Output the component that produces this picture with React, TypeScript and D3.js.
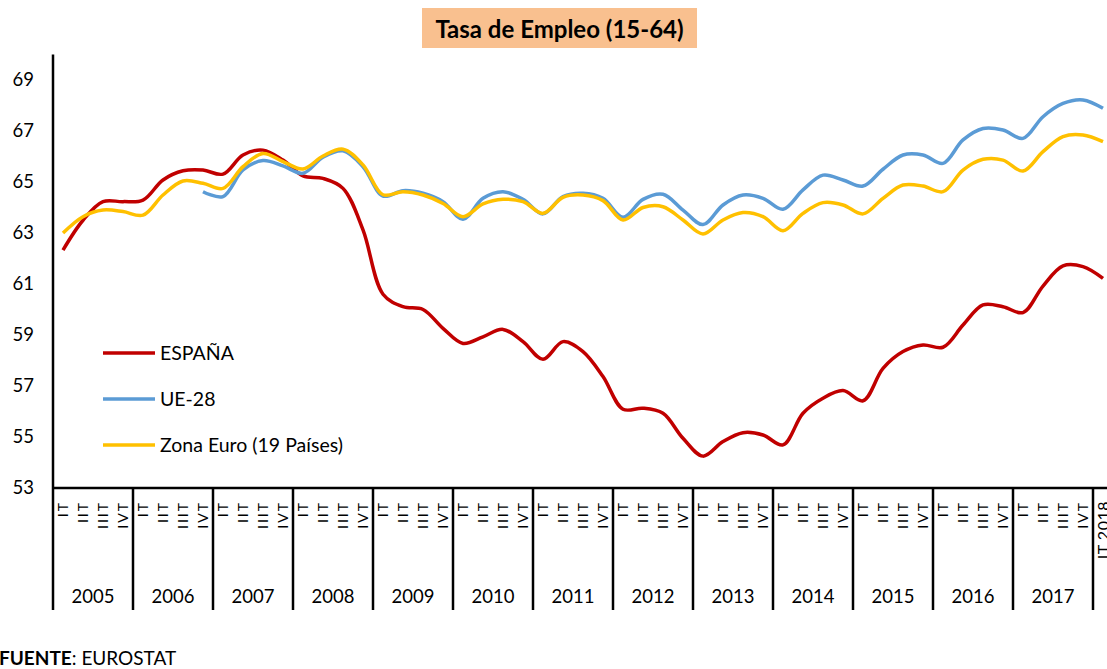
import React from 'react';
import * as d3 from 'd3';

const years = ['2005', '2006', '2007', '2008', '2009', '2010', '2011', '2012', '2013', '2014', '2015', '2016', '2017'];
const quarters = ['IT', 'IIT', 'IIIT', 'IVT'];
const lastLabel = 'IT 2018';
const yTicks = [53, 55, 57, 59, 61, 63, 65, 67, 69];

const espana = [
	62.33, 63.5, 64.23, 64.23, 64.29, 65.08, 65.44, 65.47, 65.31, 66.06, 66.25, 65.86, 65.24,
	65.14, 64.75, 63.12, 60.6, 60.11, 60.0, 59.26, 58.67, 58.93, 59.22, 58.74, 58.05, 58.74,
	58.35, 57.37, 56.09, 56.13, 55.93, 54.95, 54.25, 54.82, 55.17, 55.08, 54.69, 55.93, 56.52,
	56.82, 56.42, 57.69, 58.35, 58.61, 58.52, 59.39, 60.18, 60.11, 59.88, 60.92, 61.71, 61.68, 61.22,
];
const ue28 = [
	null, null, null, null, null, null, null, 64.62, 64.43, 65.47, 65.84, 65.63, 65.34,
	65.97, 66.22, 65.6, 64.45, 64.66, 64.56, 64.23, 63.54, 64.36, 64.62, 64.32, 63.75, 64.43,
	64.56, 64.36, 63.62, 64.32, 64.52, 63.9, 63.33, 64.1, 64.49, 64.36, 63.93, 64.69, 65.27,
	65.08, 64.84, 65.5, 66.06, 66.06, 65.73, 66.65, 67.1, 67.04, 66.71, 67.56, 68.08, 68.22, 67.89,
];
const zonaEuro = [
	63.0, 63.64, 63.9, 63.84, 63.7, 64.49, 65.04, 64.95, 64.75, 65.6, 66.12, 65.8, 65.51,
	66.02, 66.29, 65.67, 64.5, 64.62, 64.49, 64.16, 63.64, 64.14, 64.32, 64.23, 63.77, 64.4,
	64.49, 64.27, 63.51, 64.0, 64.03, 63.51, 62.96, 63.51, 63.8, 63.64, 63.09, 63.77, 64.19,
	64.1, 63.75, 64.36, 64.88, 64.84, 64.62, 65.47, 65.89, 65.86, 65.43, 66.19, 66.78, 66.84, 66.58,
];

const seriesNames = ['ESPAÑA', 'UE-28', 'Zona Euro (19 Países)'];
const seriesColors = ['#C00000', '#5B9BD5', '#FFC000'];

const width = 1107;
const height = 669;
const font = 'Lato, "Open Sans", sans-serif';

const App = () => {
	const margins = { l: 53, t: 54.5, b: 488 };
	const categories: string[] = [];
	years.forEach(y => quarters.forEach(q => categories.push(`${y}-${q}`)));
	categories.push('2018-IT');

	const xScale = d3
		.scaleBand()
		.domain(categories)
		.range([margins.l, margins.l + categories.length * 20]);
	const yScale = d3
		.scaleLinear()
		.domain([53, 70])
		.range([margins.b, margins.t]);

	const line = d3
		.line<number | null>()
		.defined(d => d != null)
		.x((d, i) => (xScale(categories[i]) as number) + xScale.bandwidth() / 2)
		.y(d => yScale(d as number))
		.curve(d3.curveCatmullRom.alpha(0.5));

	const allSeries = [espana, ue28, zonaEuro];
	const yearWidth = xScale.bandwidth() * 4;

	return (
		<svg
			width={width}
			height={height}
			style={{ position: 'absolute', left: 0, top: 0, background: '#fff' }}
			fontFamily={font}
		>
			{/* title */}
			<rect x={422} y={8} width={275} height={40} fill="#F9C08F" />
			<text x={559.5} y={38} textAnchor="middle" fontSize={24} fontWeight="bold" fill="#000">
				Tasa de Empleo (15-64)
			</text>

			{/* y axis */}
			<line x1={margins.l} x2={margins.l} y1={margins.t} y2={610} stroke="#000" strokeWidth={2.5} />
			{yTicks.map(t => (
				<text key={t} x={34} y={yScale(t)} dy="0.35em" textAnchor="end" fontSize={18.5} fill="#000">
					{t}
				</text>
			))}

			{/* x axis */}
			<line x1={margins.l} x2={width} y1={margins.b} y2={margins.b} stroke="#000" strokeWidth={2.5} />
			{years.map((y, k) => (
				<g key={y}>
					<line
						x1={margins.l + yearWidth * (k + 1)}
						x2={margins.l + yearWidth * (k + 1)}
						y1={margins.b}
						y2={610}
						stroke="#000"
						strokeWidth={2.5}
					/>
					<text x={margins.l + yearWidth * (k + 0.5)} y={603} textAnchor="middle" fontSize={18.5} fill="#000">
						{y}
					</text>
				</g>
			))}
			{categories.map((c, i) => {
				const cx = (xScale(c) as number) + xScale.bandwidth() / 2;
				const last = i === categories.length - 1;
				const label = last ? lastLabel : quarters[i % 4];
				return (
					<text
						key={c}
						transform={`translate(${cx},501) rotate(-90)`}
						textAnchor="end"
						dy="0.35em"
						fontSize={last ? 16 : 14}
						letterSpacing={last ? 0.5 : 2}
						fill="#000"
					>
						{label}
					</text>
				);
			})}

			{/* lines */}
			{allSeries.map((s, i) => (
				<path
					key={seriesNames[i]}
					d={line(s) || ''}
					fill="none"
					stroke={seriesColors[i]}
					strokeWidth={3.5}
					strokeLinejoin="round"
				/>
			))}

			{/* legend */}
			{seriesNames.map((n, i) => (
				<g key={n} transform={`translate(103,${353 + i * 46})`}>
					<line x1={0} x2={52} y1={0} y2={0} stroke={seriesColors[i]} strokeWidth={3.5} />
					<text x={57} y={0} dy="0.35em" fontSize={19.5} fill="#000">
						{n}
					</text>
				</g>
			))}

			{/* source */}
			<text x={-1} y={665} fontSize={19} fill="#000">
				<tspan fontWeight="bold">FUENTE</tspan>: EUROSTAT
			</text>
		</svg>
	);
};

export default App;
